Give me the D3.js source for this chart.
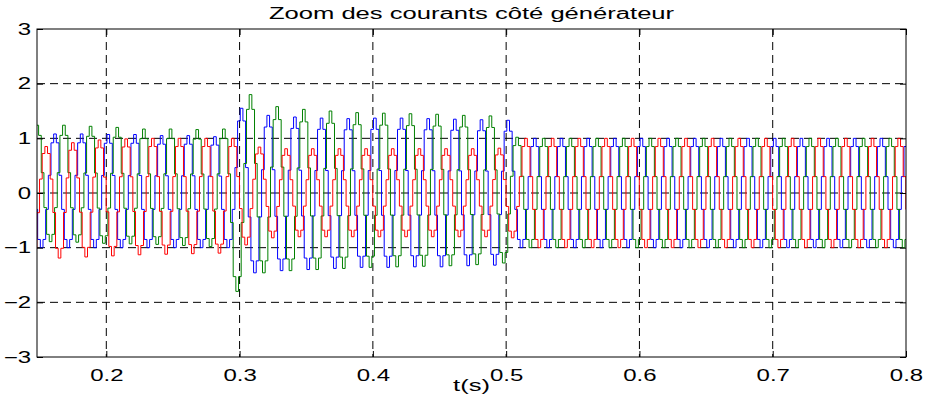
<!DOCTYPE html>
<html lang="fr">
<head>
<meta charset="utf-8">
<title>Zoom des courants côté générateur</title>
<script src="https://cdn.jsdelivr.net/npm/d3@7"></script>
<style>
  body { margin: 0; background: #fff; }
  text { font-family: "Liberation Sans", Arial, Helvetica, sans-serif; }
</style>
</head>
<body>
<script>
const W = 930, H = 396;
const LEFT = 37, RIGHT = 906, TOP = 29, BOTTOM = 357;
const STRETCH = 1.5; // the original figure was widened, text included

const xTicks = [0.2, 0.3, 0.4, 0.5, 0.6, 0.7, 0.8];
const yTicks = [-3, -2, -1, 0, 1, 2, 3];

const PERIOD = 0.02; // 50 Hz
// staircase levels over one period, the peak is step PEAK_STEP
const stepShape = [0.3, 0.85, 1, 0.85, 0.3, -0.3, -0.85, -1, -0.85, -0.3];
const PEAK_STEP = 2;

// time of the first peak of each phase (s)
const BLUE_T0 = 0.1415;
const GREEN_T0 = 0.1482;
const RED_T0 = 0.1349;

// peak / trough of each cycle
const bluePos = [1.07, 1.08, 1.08, 1.07, 1.07, 1.05, 1.05, 1.03,
  1.55, 1.42, 1.39, 1.37, 1.36, 1.37, 1.37, 1.36, 1.35, 1.34, 1.33,
  1.0, 1.0, 1.0, 1.0, 1.0, 1.0, 1.0, 1.0, 1.0, 1.0, 1.0, 1.0, 1.0, 1.0, 1.0];
const blueNeg = [-1.0, -1.0, -1.0, -1.0, -1.0, -1.0, -1.0, -1.0,
  -1.46, -1.42, -1.40, -1.38, -1.36, -1.36, -1.35, -1.35, -1.33, -1.32,
  -1.0, -1.0, -1.0, -1.0, -1.0, -1.0, -1.0, -1.0, -1.0, -1.0, -1.0, -1.0, -1.0, -1.0, -1.0, -1.0];

const greenPos = [1.24, 1.24, 1.22, 1.20, 1.17, 1.17, 1.16, 1.17,
  1.80, 1.58, 1.53, 1.50, 1.47, 1.46, 1.45, 1.44, 1.42, 1.41,
  1.02, 1.0, 1.0, 1.0, 1.0, 1.0, 1.0, 1.0, 1.0, 1.0, 1.0, 1.0, 1.0, 1.0, 1.0, 1.0];
const greenNeg = [-0.89, -0.90, -0.92, -0.93, -0.94, -0.96, -0.98, -1.80,
  -1.46, -1.42, -1.40, -1.38, -1.36, -1.35, -1.34, -1.33, -1.31, -1.28,
  -1.0, -1.0, -1.0, -1.0, -1.0, -1.0, -1.0, -1.0, -1.0, -1.0, -1.0, -1.0, -1.0, -1.0, -1.0, -1.0];

const redPos = [0.85, 0.85, 0.92, 0.97, 0.99, 1.0, 1.0, 1.0, 1.0,
  0.84, 0.81, 0.81, 0.81, 0.81, 0.81, 0.81, 0.81, 0.81, 0.82,
  1.0, 1.0, 1.0, 1.0, 1.0, 1.0, 1.0, 1.0, 1.0, 1.0, 1.0, 1.0, 1.0, 1.0, 1.0];
const redNeg = [-1.20, -1.19, -1.17, -1.15, -1.13, -1.12, -1.11, -1.10,
  -0.95, -0.82, -0.80, -0.80, -0.80, -0.80, -0.80, -0.80, -0.80, -0.80, -0.82,
  -1.0, -1.0, -1.0, -1.0, -1.0, -1.0, -1.0, -1.0, -1.0, -1.0, -1.0, -1.0, -1.0, -1.0, -1.0];

var svg = d3.select("body").append("svg")
  .attr("width", W)
  .attr("height", H);

var x = d3.scaleLinear().domain([0.148, 0.8]).range([LEFT, RIGHT]);
var y = d3.scaleLinear().domain([-3, 3]).range([BOTTOM, TOP]);

// dashed grid
svg.append("g").selectAll("line")
  .data(xTicks.filter(d => d < 0.8))
  .join("line")
  .attr("x1", d => x(d)).attr("x2", d => x(d))
  .attr("y1", TOP).attr("y2", BOTTOM)
  .attr("stroke", "#000").attr("stroke-dasharray", "8,5");
svg.append("g").selectAll("line")
  .data(yTicks.filter(d => d > -3 && d < 3))
  .join("line")
  .attr("x1", LEFT).attr("x2", RIGHT)
  .attr("y1", d => y(d)).attr("y2", d => y(d))
  .attr("stroke", "#000").attr("stroke-dasharray", "8,5");

// stair waveform of one phase
function stairs(t0, pos, neg) {
  var dt = PERIOD / stepShape.length;
  var pts = [];
  pos.forEach(function(p, k) {
    var peak = t0 + k * PERIOD;
    stepShape.forEach(function(s, j) {
      pts.push([peak + (j - PEAK_STEP - 0.5) * dt, s >= 0 ? s * p : s * -neg[k]]);
    });
  });
  var last = pts[pts.length - 1];
  pts.push([last[0] + dt, last[1]]);
  return pts;
}

svg.append("clipPath").attr("id", "plot")
  .append("rect")
  .attr("x", LEFT).attr("y", TOP)
  .attr("width", RIGHT - LEFT).attr("height", BOTTOM - TOP);

var line = d3.line()
  .x(d => x(d[0]))
  .y(d => y(d[1]))
  .curve(d3.curveStepAfter);

var phases = [
  { color: "#0000ff", pts: stairs(BLUE_T0, bluePos, blueNeg) },
  { color: "#008000", pts: stairs(GREEN_T0, greenPos, greenNeg) },
  { color: "#ff0000", pts: stairs(RED_T0, redPos, redNeg) }
];

svg.append("g").attr("clip-path", "url(#plot)")
  .selectAll("path")
  .data(phases)
  .join("path")
  .attr("d", d => line(d.pts))
  .attr("fill", "none")
  .attr("stroke", d => d.color)
  .attr("stroke-width", 1);

// axes, MATLAB style: ticks pointing inwards on all four sides
svg.append("g")
  .attr("transform", "translate(0," + BOTTOM + ")")
  .call(d3.axisBottom(x).tickValues(xTicks).tickFormat(d3.format(".1f"))
    .tickSizeInner(-6).tickSizeOuter(0).tickPadding(13));
svg.append("g")
  .attr("transform", "translate(0," + TOP + ")")
  .call(d3.axisTop(x).tickValues(xTicks).tickFormat("")
    .tickSizeInner(-6).tickSizeOuter(0));
svg.append("g")
  .attr("transform", "translate(" + LEFT + ",0)")
  .call(d3.axisLeft(y).tickValues(yTicks).tickFormat(d3.format("d"))
    .tickSizeInner(-6).tickSizeOuter(0).tickPadding(4));
svg.append("g")
  .attr("transform", "translate(" + RIGHT + ",0)")
  .call(d3.axisRight(y).tickValues(yTicks).tickFormat("")
    .tickSizeInner(-6).tickSizeOuter(0));

svg.selectAll(".domain").remove();
svg.selectAll(".tick line").attr("stroke", "#000");
svg.selectAll(".tick text")
  .attr("fill", "#000")
  .attr("transform", "scale(" + STRETCH + ",1)")
  .style("font-size", "16px")
  .style("font-family", "'Liberation Sans', Arial, sans-serif");

svg.append("rect")
  .attr("x", LEFT).attr("y", TOP)
  .attr("width", RIGHT - LEFT).attr("height", BOTTOM - TOP)
  .attr("fill", "none")
  .attr("stroke", "#000")
  .attr("stroke-width", 1);

svg.append("text")
  .attr("transform", "translate(" + (LEFT + RIGHT) / 2 + ",19) scale(1.6,1)")
  .attr("text-anchor", "middle")
  .style("font-size", "16px")
  .text("Zoom des courants côté générateur");

svg.append("text")
  .attr("transform", "translate(" + (LEFT + RIGHT) / 2 + ",391) scale(1.6,1)")
  .attr("text-anchor", "middle")
  .style("font-size", "16px")
  .text("t(s)");
</script>
</body>
</html>
